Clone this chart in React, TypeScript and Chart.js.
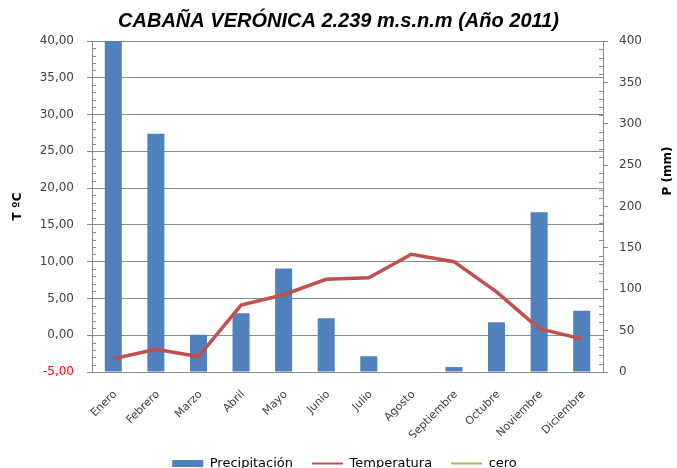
import { useEffect, useRef } from 'react';
import { Chart, registerables } from 'chart.js';

Chart.register(...registerables);

const months = ['Enero', 'Febrero', 'Marzo', 'Abril', 'Mayo', 'Junio', 'Julio', 'Agosto', 'Septiembre', 'Octubre', 'Noviembre', 'Diciembre'];
const precipitacion = [400, 288, 45, 71, 125, 65, 19, 0, 6, 60, 193, 74];
const temperatura = [-3.2, -1.9, -2.9, 4.1, 5.5, 7.6, 7.8, 11.0, 10.0, 5.9, 0.9, -0.5];
const cero = [null, null, null, null, null, null, null, null, null, null, null, null];

const tempMin = -5;
const tempMax = 40;
const tempStep = 5;
const precMin = 0;
const precMax = 400;
const precStep = 50;

const titleText = 'CABAÑA VERÓNICA 2.239 m.s.n.m (Año 2011)';
const leftTitle = 'T ºC';
const rightTitle = 'P (mm)';

const GRID = '#8a8a8a';
const TXT = '#404040';
const FONT = 'DejaVu Sans';

const extrasPlugin = {
  id: 'extras',
  afterLayout(chart: any) {
    if (chart.legend) {
      chart.legend.left += 6;
      chart.legend.right += 6;
    }
  },
  afterDraw(chart: any) {
    const ctx = chart.ctx;
    const yT = chart.scales.yT;
    const yP = chart.scales.yP;
    const area = chart.chartArea;
    ctx.save();
    ctx.strokeStyle = GRID;
    ctx.lineWidth = 1;
    ctx.beginPath();
    for (let v = tempMin; v <= tempMax; v += 1) {
      if (v % tempStep === 0) continue;
      const y = Math.round(yT.getPixelForValue(v)) + 0.5;
      ctx.moveTo(area.left, y);
      ctx.lineTo(area.left + 4, y);
    }
    for (let v = precMin; v <= precMax; v += 10) {
      if (v % precStep === 0) continue;
      const y = Math.round(yP.getPixelForValue(v)) + 0.5;
      ctx.moveTo(area.right - 4, y);
      ctx.lineTo(area.right, y);
    }
    ctx.stroke();

    ctx.fillStyle = '#000';
    ctx.font = `bold 12px ${FONT}`;
    ctx.textAlign = 'center';
    ctx.textBaseline = 'middle';
    ctx.save();
    ctx.translate(18, (area.top + area.bottom) / 2);
    ctx.rotate(-Math.PI / 2);
    ctx.fillText(leftTitle, 0, 0);
    ctx.restore();
    ctx.save();
    ctx.translate(668, 171);
    ctx.rotate(-Math.PI / 2);
    ctx.fillText(rightTitle, 0, 0);
    ctx.restore();
    ctx.restore();
  },
};

export default function App() {
  const ref = useRef<HTMLCanvasElement | null>(null);
  useEffect(() => {
    if (!ref.current) return;
    const chart = new Chart(ref.current, {
      type: 'bar',
      data: {
        labels: months,
        datasets: [
          {
            type: 'bar',
            label: 'Precipitación',
            data: precipitacion,
            yAxisID: 'yP',
            backgroundColor: '#4F81BD',
            borderWidth: 0,
            barPercentage: 0.4,
            categoryPercentage: 1,
            order: 2,
            pointStyle: 'rect',
          } as any,
          {
            type: 'line',
            label: 'Temperatura',
            data: temperatura,
            yAxisID: 'yT',
            borderColor: '#C0504D',
            backgroundColor: '#C0504D',
            borderWidth: 3.5,
            pointRadius: 0,
            tension: 0,
            order: 1,
            pointStyle: 'line',
          } as any,
          {
            type: 'line',
            label: 'cero',
            data: cero,
            yAxisID: 'yT',
            borderColor: '#9BBB59',
            backgroundColor: '#9BBB59',
            borderWidth: 2,
            pointRadius: 0,
            order: 0,
            pointStyle: 'line',
          } as any,
        ],
      },
      options: {
        animation: false,
        responsive: false,
        maintainAspectRatio: false,
        layout: { padding: 0 },
        plugins: {
          title: {
            display: true,
            text: titleText,
            color: '#000',
            font: { family: 'Liberation Sans', size: 20, weight: 'bold', style: 'italic' },
            padding: { top: 9, bottom: 8 },
          },
          legend: {
            position: 'bottom',
            labels: {
              usePointStyle: true,
              pointStyleWidth: 31,
              boxWidth: 31,
              boxHeight: 7,
              color: '#000',
              padding: 19,
              font: { family: FONT, size: 13 },
              sort: (a: any, b: any) => a.datasetIndex - b.datasetIndex,
              generateLabels(chart: any) {
                const items = Chart.defaults.plugins.legend.labels.generateLabels(chart);
                items.forEach((it: any) => {
                  if (it.datasetIndex > 0) it.lineWidth = 2;
                });
                return items;
              },
            },
          },
          tooltip: { enabled: false },
        },
        scales: {
          x: {
            grid: { display: false, drawTicks: false },
            border: { display: true, color: GRID },
            ticks: {
              color: TXT,
              font: { family: FONT, size: 11 },
              minRotation: 45,
              maxRotation: 45,
              padding: 16,
              labelOffset: 2,
              autoSkip: false,
            },
            afterFit(scale: any) {
              scale.height = 66;
            },
          },
          yT: {
            type: 'linear',
            position: 'left',
            min: tempMin,
            max: tempMax,
            grid: { color: GRID, tickLength: 5, drawTicks: true },
            border: { display: true, color: GRID },
            ticks: {
              stepSize: tempStep,
              padding: 13,
              font: { family: FONT, size: 12 },
              color: (c: any) => (c.tick && c.tick.value < 0 ? '#FF0000' : TXT),
              callback: (v: any) => Number(v).toFixed(2).replace('.', ','),
            },
            afterFit(scale: any) {
              scale.width = 92;
            },
          },
          yP: {
            type: 'linear',
            position: 'right',
            min: precMin,
            max: precMax,
            grid: { drawOnChartArea: false, color: GRID, tickLength: 5 },
            border: { display: true, color: GRID },
            ticks: {
              stepSize: precStep,
              padding: 11,
              font: { family: FONT, size: 12 },
              color: TXT,
            },
            afterFit(scale: any) {
              scale.width = 74;
            },
          },
        },
      },
      plugins: [extrasPlugin],
    });
    return () => chart.destroy();
  }, []);
  return (
    <div style={{ position: 'absolute', left: 0, top: 0, width: 677, height: 468, overflow: 'hidden' }}>
      <canvas ref={ref} width={677} height={480} style={{ display: 'block' }} />
    </div>
  );
}
